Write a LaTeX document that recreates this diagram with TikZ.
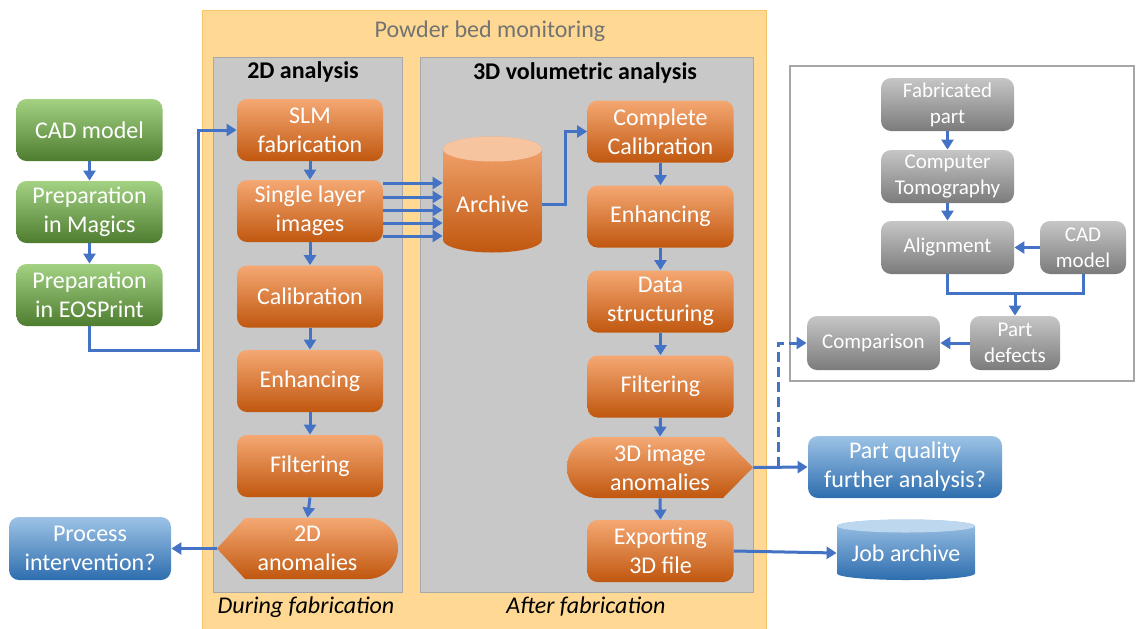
\documentclass[tikz,border=0pt]{standalone}
\usepackage{fontspec}
\setmainfont{Carlito}
\usetikzlibrary{arrows.meta,calc}
\definecolor{Flow}{HTML}{4472C4}
\definecolor{OrangeTop}{HTML}{F5A873}
\definecolor{OrangeMid}{HTML}{ED7D31}
\definecolor{OrangeBot}{HTML}{C0570F}
\definecolor{OrangeCap}{HTML}{F7C4A0}
\definecolor{GreenTop}{HTML}{A3D283}
\definecolor{GreenMid}{HTML}{70AD47}
\definecolor{GreenBot}{HTML}{4E7D30}
\definecolor{BlueTop}{HTML}{9DC3E6}
\definecolor{BlueMid}{HTML}{5B9BD5}
\definecolor{BlueBot}{HTML}{2D6DAE}
\definecolor{BlueCap}{HTML}{BDD7EE}
\definecolor{GreyTop}{HTML}{C6C6C6}
\definecolor{GreyMid}{HTML}{A5A5A5}
\definecolor{GreyBot}{HTML}{7B7B7B}
\definecolor{Sand}{HTML}{FFD993}
\definecolor{SandLine}{HTML}{F4C56B}
\definecolor{Panel}{HTML}{C8C8C8}
\definecolor{PanelLine}{HTML}{A8A8A8}
\colorlet{flow}{Flow}

\tikzset{
  box/.style={rounded corners=5pt,minimum width=73pt,minimum height=31pt,inner sep=1pt,text=white,align=center,font=\fontsize{12}{14.5}\selectfont},
  orangebox/.style={box,top color=OrangeTop,middle color=OrangeMid,bottom color=OrangeBot},
  greenbox/.style={box,top color=GreenTop,middle color=GreenMid,bottom color=GreenBot},
  bluebox/.style={box,top color=BlueTop,middle color=BlueMid,bottom color=BlueBot},
  greybox/.style={box,minimum width=66.5pt,minimum height=26.5pt,top color=GreyTop,middle color=GreyMid,bottom color=GreyBot,font=\fontsize{10.5}{13}\selectfont},
  label/.style={inner sep=0pt,text=white,align=center,font=\fontsize{12}{14.5}\selectfont},
  title/.style={font=\fontsize{12}{14.5}\selectfont},
  flowline/.style={line width=1.5pt,draw=flow},
  flowarrow/.style={flowline,-{Triangle[length=5pt,width=6pt]}}
}

\begin{document}
\begin{tikzpicture}[x=0.5pt,y=-0.5pt]
\useasboundingbox (0,0) rectangle (1136,628);
% panels
\fill[Sand,draw=SandLine] (202,10) rectangle (766,640);
\node[title,text=black!55] (pbm) at (490,31) {Powder bed monitoring};
\fill[Panel,draw=PanelLine] (213,57) rectangle (402,592);
\fill[Panel,draw=PanelLine] (420,57) rectangle (753,592);
\node[title,font=\fontsize{12}{14.5}\selectfont\bfseries] (t2d) at (303,72) {2D analysis};
\node[title,font=\fontsize{12}{14.5}\selectfont\bfseries] (t3d) at (585,73) {3D volumetric analysis};
\node[title,font=\fontsize{12}{14.5}\selectfont\itshape] (during) at (306,607) {During fabrication};
\node[title,font=\fontsize{12}{14.5}\selectfont\itshape] (after) at (586,607) {After fabrication};
\draw[black!35,line width=0.6pt] (790,66) rectangle (1134,381);

% preparation
\node[greenbox] (cad) at (89.5,130) {CAD model};
\node[greenbox] (magics) at (89.5,212) {Preparation\\in Magics};
\node[greenbox] (eos) at (89.5,295) {Preparation\\in EOSPrint};

% 2D analysis
\node[orangebox] (slm) at (310,130) {SLM\\fabrication};
\node[orangebox] (single) at (310,211) {Single layer\\images};
\node[orangebox] (calib) at (310,296.5) {Calibration};
\node[orangebox] (enh) at (310,381) {Enhancing};
\node[orangebox] (filt) at (310,466) {Filtering};
\shade[top color=OrangeTop,middle color=OrangeMid,bottom color=OrangeBot] (217,548.5) -- (245,518) -- (367.5,518) arc[start angle=90,end angle=-90,radius=15.25pt] -- (245,579) -- cycle;
\node[label,minimum width=90.5pt,minimum height=30.5pt] (anomtwo) at (307.5,548.5) {2D\\anomalies};

% archive
\shade[top color=OrangeTop,middle color=OrangeMid,bottom color=OrangeBot] (443,149) -- (443,240) arc[start angle=180,end angle=360,x radius=24.75pt,y radius=6.25pt] -- (542,149) arc[start angle=0,end angle=180,x radius=24.75pt,y radius=6.25pt] -- cycle;
\fill[OrangeCap] (492.5,149) ellipse[x radius=24.75pt,y radius=6.25pt];
\node[label,minimum width=49.5pt,minimum height=40pt] (archive) at (492.5,204) {Archive};

% 3D analysis
\node[orangebox] (complete) at (660.5,131.5) {Complete\\Calibration};
\node[orangebox] (enhthree) at (660.5,216.5) {Enhancing};
\node[orangebox] (struct) at (660.5,301.5) {Data\\structuring};
\node[orangebox] (filtthree) at (660.5,386.5) {Filtering};
\shade[top color=OrangeTop,middle color=OrangeMid,bottom color=OrangeBot] (597.5,437) -- (723,437) -- (753,467.5) -- (723,498) -- (597.5,498) arc[start angle=270,end angle=90,radius=15.25pt] -- cycle;
\node[label,minimum width=93pt,minimum height=30.5pt] (anomthree) at (660,467.5) {3D image\\anomalies};
\node[orangebox] (export) at (660.5,551) {Exporting\\3D file};

% outcomes
\node[bluebox,minimum width=81pt,minimum height=31.5pt] (interv) at (90,548.5) {Process\\intervention?};
\node[bluebox,minimum width=97pt] (quality) at (905,467) {Part quality\\further analysis?};
\shade[top color=BlueTop,middle color=BlueMid,bottom color=BlueBot] (837,526) -- (837,573.5) arc[start angle=180,end angle=360,x radius=34.5pt,y radius=3.25pt] -- (975,526) arc[start angle=0,end angle=180,x radius=34.5pt,y radius=3.25pt] -- cycle;
\fill[BlueCap] (906,526) ellipse[x radius=34.5pt,y radius=3.25pt];
\node[label,minimum width=69pt,minimum height=20pt] (jobarch) at (906,553) {Job archive};

% CT inspection
\node[greybox] (fab) at (947.5,104.5) {Fabricated\\part};
\node[greybox] (ct) at (947.5,176.5) {Computer\\Tomography};
\node[greybox] (align) at (947.5,247.5) {Alignment};
\node[greybox,minimum width=43pt] (cadtwo) at (1083,247.5) {CAD\\model};
\node[greybox,minimum width=45pt,minimum height=27pt] (defects) at (1015,343) {Part\\defects};
\node[greybox,minimum height=27pt] (compare) at (873.5,343) {Comparison};

% connectors
\draw[flowarrow] (cad) -- (magics);
\draw[flowarrow] (magics) -- (eos);
\draw[flowarrow] (eos.south) |- (198,350) |- (slm.west);
\draw[flowarrow] (slm) -- (single);
\draw[flowarrow] (single) -- (calib);
\draw[flowarrow] (calib) -- (enh);
\draw[flowarrow] (enh) -- (filt);
\draw[flowarrow] (filt.south) -- (anomtwo.north);
\draw[flowarrow] (anomtwo.west) -- (interv.east);
\foreach \dy in {-28,-14,-1,12,25}
  \draw[flowarrow] ($(single.east)+(0,\dy)$) coordinate (s) -- (s -| archive.west);
\draw[flowarrow] (archive.east) -- ++(23,0) |- (complete.west);
\draw[flowarrow] (complete) -- (enhthree);
\draw[flowarrow] (enhthree) -- (struct);
\draw[flowarrow] (struct) -- (filtthree);
\draw[flowarrow] (filtthree.south) -- (anomthree.north);
\draw[flowarrow] (anomthree.south) -- (export.north);
\draw[flowarrow] (anomthree.east) -- (quality.west);
\draw[flowarrow] (export.east) -- (jobarch.west);
\coordinate (split) at (778,467);
\draw[flowarrow,dash pattern=on 5pt off 2.5pt] (split) |- (compare.west);
\draw[flowarrow] (fab) -- (ct);
\draw[flowarrow] (ct) -- (align);
\draw[flowarrow] (cadtwo) -- (align);
\draw[flowline] (align.south) |- (1083,293) -- (cadtwo.south);
\coordinate (join) at (1015,293);
\draw[flowarrow] (join) -- (defects.north);
\draw[flowarrow] (defects) -- (compare);
\end{tikzpicture}
\end{document}
